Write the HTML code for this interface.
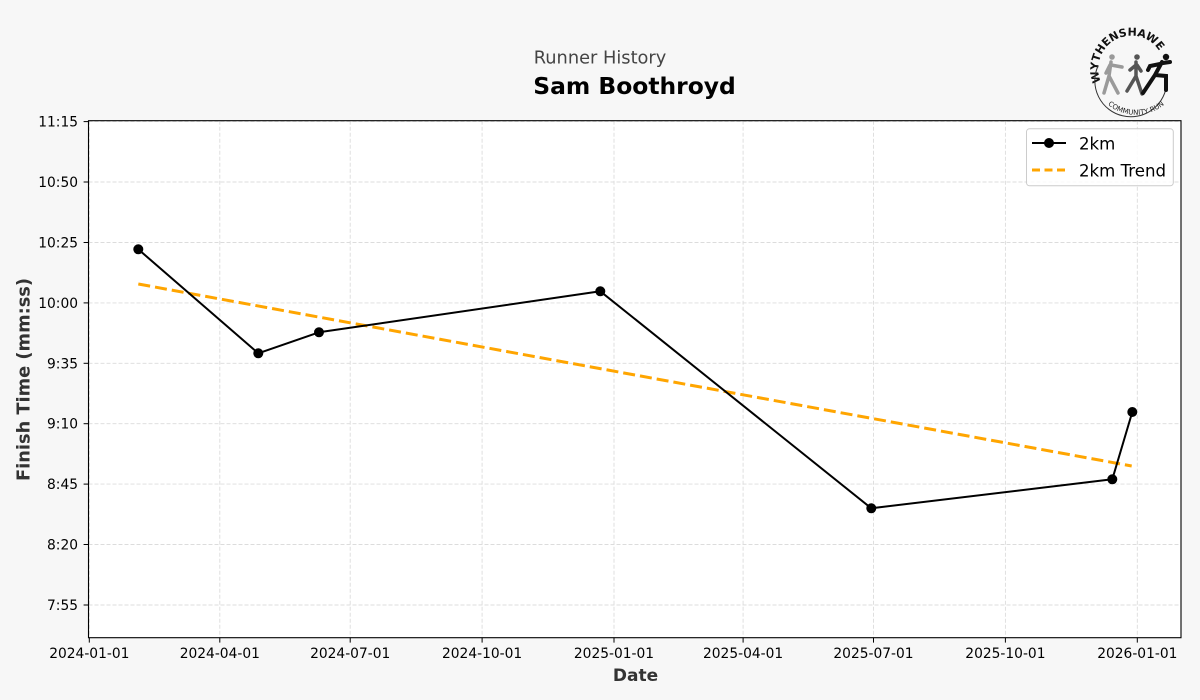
<!DOCTYPE html>
<html>
<head>
<meta charset="utf-8">
<style>
html,body{margin:0;padding:0;background:#f7f7f7;}
svg{display:block;}
text{font-family:"DejaVu Sans","Liberation Sans",sans-serif;}
</style>
</head>
<body>
<svg width="1200" height="700" viewBox="0 0 1200 700" xmlns="http://www.w3.org/2000/svg">
<rect x="0" y="0" width="1200" height="700" fill="#f7f7f7"/>
<!-- titles -->
<text x="600" y="63.5" text-anchor="middle" font-size="17.8" fill="#444">Runner History</text>
<text x="634.5" y="94" text-anchor="middle" font-size="23.4" font-weight="bold" fill="#000">Sam Boothroyd</text>

<!-- logo -->
<g>
  <defs>
    <path id="arcTop" d="M1101.1,82 A33,33 0 0 1 1161.6,55.5"/>
    <path id="arcBot" d="M1098,93 A44,44 0 0 0 1174,93"/>
  </defs>
  <text font-size="11" font-weight="bold" fill="#111"><textPath href="#arcTop">WYTHENSHAWE</textPath></text>
  <text font-size="7" fill="#222" text-anchor="middle"><textPath href="#arcBot" startOffset="50%">COMMUNITY RUN</textPath></text>
  <path d="M1098,66 A36,36 0 1 0 1166.8,82.3" fill="none" stroke="#333" stroke-width="1"/>
  <!-- gray runner -->
  <g stroke="#9a9a9a" stroke-width="3.5" stroke-linecap="round" fill="none">
    <circle cx="1112" cy="57" r="2.8" fill="#9a9a9a" stroke="none"/>
    <path d="M1111,62 L1109,76 L1104,93 M1109,76 L1118,93 M1110,65 L1106,73 M1111,65 L1122,67"/>
  </g>
  <!-- mid runner -->
  <g stroke="#555" stroke-width="3.5" stroke-linecap="round" fill="none">
    <circle cx="1137" cy="57" r="2.8" fill="#555" stroke="none"/>
    <path d="M1136,62 L1136,76 L1127,91 M1136,76 L1142,94 M1136,65 L1130,70 M1137,65 L1141,71"/>
  </g>
  <!-- black runner -->
  <g stroke="#111" stroke-width="4" stroke-linecap="round" fill="none">
    <circle cx="1166" cy="57" r="3.2" fill="#111" stroke="none"/>
    <path d="M1162,62 L1155,75 L1143,93 M1155,75 L1166,76 L1166,90 M1160,64 L1150,66 L1148,70 M1163,63 L1170,62"/>
  </g>
</g>

<!-- axes background -->
<rect x="88.5" y="120.7" width="1092.5" height="517" fill="#fff"/>

<!-- grid -->
<g stroke="#dcdcdc" stroke-width="0.9" stroke-dasharray="4,2" fill="none">
  <line x1="89.3" y1="120.7" x2="89.3" y2="637.7"/>
  <line x1="219.8" y1="120.7" x2="219.8" y2="637.7"/>
  <line x1="350.2" y1="120.7" x2="350.2" y2="637.7"/>
  <line x1="482.1" y1="120.7" x2="482.1" y2="637.7"/>
  <line x1="614.0" y1="120.7" x2="614.0" y2="637.7"/>
  <line x1="743.1" y1="120.7" x2="743.1" y2="637.7"/>
  <line x1="873.5" y1="120.7" x2="873.5" y2="637.7"/>
  <line x1="1005.4" y1="120.7" x2="1005.4" y2="637.7"/>
  <line x1="1137.3" y1="120.7" x2="1137.3" y2="637.7"/>
  <line x1="88.5" y1="121.6" x2="1181" y2="121.6"/>
  <line x1="88.5" y1="182.0" x2="1181" y2="182.0"/>
  <line x1="88.5" y1="242.5" x2="1181" y2="242.5"/>
  <line x1="88.5" y1="302.9" x2="1181" y2="302.9"/>
  <line x1="88.5" y1="363.3" x2="1181" y2="363.3"/>
  <line x1="88.5" y1="423.7" x2="1181" y2="423.7"/>
  <line x1="88.5" y1="484.1" x2="1181" y2="484.1"/>
  <line x1="88.5" y1="544.5" x2="1181" y2="544.5"/>
  <line x1="88.5" y1="605.0" x2="1181" y2="605.0"/>
</g>

<!-- trend -->
<line x1="138.3" y1="284" x2="1131.7" y2="466" stroke="#ffa500" stroke-width="3" stroke-dasharray="12,5"/>

<!-- data line -->
<polyline points="138.3,249.3 258.3,353.3 319,332.3 600.3,291.3 871.3,508.3 1112.3,479.3 1132.3,412" fill="none" stroke="#000" stroke-width="2" stroke-linejoin="round"/>
<g fill="#000">
  <circle cx="138.3" cy="249.3" r="5"/>
  <circle cx="258.3" cy="353.3" r="5"/>
  <circle cx="319" cy="332.3" r="5"/>
  <circle cx="600.3" cy="291.3" r="5"/>
  <circle cx="871.3" cy="508.3" r="5"/>
  <circle cx="1112.3" cy="479.3" r="5"/>
  <circle cx="1132.3" cy="412" r="5"/>
</g>

<!-- axes frame -->
<rect x="88.5" y="120.7" width="1092.5" height="517" fill="none" stroke="#000" stroke-width="1.1"/>

<!-- ticks -->
<g stroke="#000" stroke-width="1">
  <line x1="83.6" y1="121.6" x2="88.5" y2="121.6"/>
  <line x1="83.6" y1="182.0" x2="88.5" y2="182.0"/>
  <line x1="83.6" y1="242.5" x2="88.5" y2="242.5"/>
  <line x1="83.6" y1="302.9" x2="88.5" y2="302.9"/>
  <line x1="83.6" y1="363.3" x2="88.5" y2="363.3"/>
  <line x1="83.6" y1="423.7" x2="88.5" y2="423.7"/>
  <line x1="83.6" y1="484.1" x2="88.5" y2="484.1"/>
  <line x1="83.6" y1="544.5" x2="88.5" y2="544.5"/>
  <line x1="83.6" y1="605.0" x2="88.5" y2="605.0"/>
  <line x1="89.3" y1="637.7" x2="89.3" y2="642.6"/>
  <line x1="219.8" y1="637.7" x2="219.8" y2="642.6"/>
  <line x1="350.2" y1="637.7" x2="350.2" y2="642.6"/>
  <line x1="482.1" y1="637.7" x2="482.1" y2="642.6"/>
  <line x1="614.0" y1="637.7" x2="614.0" y2="642.6"/>
  <line x1="743.1" y1="637.7" x2="743.1" y2="642.6"/>
  <line x1="873.5" y1="637.7" x2="873.5" y2="642.6"/>
  <line x1="1005.4" y1="637.7" x2="1005.4" y2="642.6"/>
  <line x1="1137.3" y1="637.7" x2="1137.3" y2="642.6"/>
</g>

<!-- y tick labels -->
<g font-size="13.8" fill="#000" text-anchor="end">
  <text x="78" y="126.6">11:15</text>
  <text x="78" y="187.0">10:50</text>
  <text x="78" y="247.5">10:25</text>
  <text x="78" y="307.9">10:00</text>
  <text x="78" y="368.3">9:35</text>
  <text x="78" y="428.7">9:10</text>
  <text x="78" y="489.1">8:45</text>
  <text x="78" y="549.5">8:20</text>
  <text x="78" y="610.0">7:55</text>
</g>

<!-- x tick labels -->
<g font-size="13.8" fill="#000" text-anchor="middle">
  <text x="89.3" y="657.8">2024-01-01</text>
  <text x="219.8" y="657.8">2024-04-01</text>
  <text x="350.2" y="657.8">2024-07-01</text>
  <text x="482.1" y="657.8">2024-10-01</text>
  <text x="614.0" y="657.8">2025-01-01</text>
  <text x="743.1" y="657.8">2025-04-01</text>
  <text x="873.5" y="657.8">2025-07-01</text>
  <text x="1005.4" y="657.8">2025-10-01</text>
  <text x="1137.3" y="657.8">2026-01-01</text>
</g>

<!-- axis labels -->
<text x="635.5" y="681" text-anchor="middle" font-size="17" font-weight="bold" fill="#333">Date</text>
<text transform="translate(29.5,379.5) rotate(-90)" text-anchor="middle" font-size="17.8" font-weight="bold" fill="#333">Finish Time (mm:ss)</text>

<!-- legend -->
<rect x="1026.5" y="128.8" width="146.8" height="57" rx="3" ry="3" fill="#fff" fill-opacity="0.85" stroke="#ccc" stroke-width="1"/>
<line x1="1032" y1="143" x2="1066" y2="143" stroke="#000" stroke-width="2"/>
<circle cx="1049" cy="143" r="5"/>
<line x1="1032" y1="170" x2="1066" y2="170" stroke="#ffa500" stroke-width="3" stroke-dasharray="8,4.5"/>
<text x="1079" y="149.5" font-size="16.6" fill="#000">2km</text>
<text x="1079" y="176.5" font-size="16.6" fill="#000">2km Trend</text>
</svg>
</body>
</html>
